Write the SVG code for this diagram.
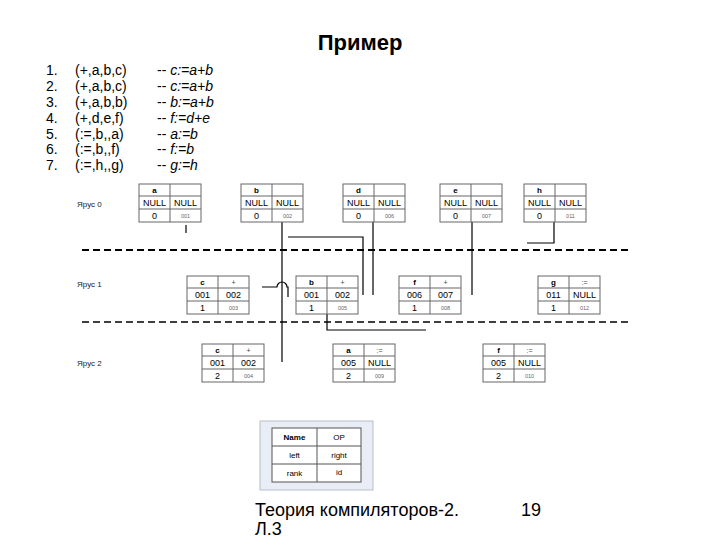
<svg xmlns="http://www.w3.org/2000/svg" width="720" height="540" viewBox="0 0 720 540">
<style>
text{font-family:"Liberation Sans",Arial,sans-serif;fill:#000}
.title{font-size:22px;font-weight:bold}
.li{font-size:14px}
.it{font-style:italic}
.foot{font-size:18px}
.cell{fill:#fff;stroke:#666;stroke-width:1}
.h{font-size:8px;font-weight:bold;text-anchor:middle}
.op{font-size:7px;text-anchor:middle;fill:#444}
.v{font-size:9px;text-anchor:middle}
.s{font-size:5.5px;text-anchor:middle;fill:#666}
.lvl{font-size:8px;fill:#222}
.con{fill:none;stroke:#000;stroke-width:1.2}
.dash{fill:none;stroke:#000;stroke-dasharray:7 4}
.lg{font-size:8px;text-anchor:middle}
</style>
<defs>
<g id="tbl">
<rect class="cell" x="0" y="0" width="62" height="38"/>
<line x1="31" y1="0" x2="31" y2="38" stroke="#666"/>
<line x1="0" y1="12" x2="62" y2="12" stroke="#666"/>
<line x1="0" y1="25" x2="62" y2="25" stroke="#666"/>
</g>
</defs>
<text class="title" x="360" y="50" text-anchor="middle">Пример</text>
<g id="list">
<text class="li" x="46" y="75">1.</text><text class="li" x="75" y="75">(+,a,b,c)</text><text class="li" x="157" y="75">-- <tspan class="it">c:=a+b</tspan></text>
<text class="li" x="46" y="91">2.</text><text class="li" x="75" y="91">(+,a,b,c)</text><text class="li" x="157" y="91">-- <tspan class="it">c:=a+b</tspan></text>
<text class="li" x="46" y="107">3.</text><text class="li" x="75" y="107">(+,a,b,b)</text><text class="li" x="157" y="107">-- <tspan class="it">b:=a+b</tspan></text>
<text class="li" x="46" y="123">4.</text><text class="li" x="75" y="123">(+,d,e,f)</text><text class="li" x="157" y="123">-- <tspan class="it">f:=d+e</tspan></text>
<text class="li" x="46" y="139">5.</text><text class="li" x="75" y="139">(:=,b,,a)</text><text class="li" x="157" y="139">-- <tspan class="it">a:=b</tspan></text>
<text class="li" x="46" y="154">6.</text><text class="li" x="75" y="154">(:=,b,,f)</text><text class="li" x="157" y="154">-- <tspan class="it">f:=b</tspan></text>
<text class="li" x="46" y="170">7.</text><text class="li" x="75" y="170">(:=,h,,g)</text><text class="li" x="157" y="170">-- <tspan class="it">g:=h</tspan></text>
</g>
<g id="levels">
<text class="lvl" x="77" y="207">Ярус 0</text>
<text class="lvl" x="77" y="287">Ярус 1</text>
<text class="lvl" x="77" y="366">Ярус 2</text>
<line class="dash" x1="82" y1="250" x2="630" y2="250" stroke-width="2"/>
<line class="dash" x1="82" y1="322" x2="630" y2="322" stroke-width="1.4"/>
</g>
<g id="connectors">
<path class="con" d="M186 225V233"/>
<path class="con" d="M282 222V362"/>
<path class="con" d="M288 237H363V295"/>
<path class="con" d="M373 222V295"/>
<path class="con" d="M472 222V295"/>
<path class="con" d="M554 222V243H527"/>
<path class="con" d="M262 287H277A5 5 0 0 1 287 287H288V297"/>
<path class="con" d="M327 313V330H426"/>
</g>
<g id="n-a0" transform="translate(139,184)"><use href="#tbl"/><text class="h" x="15.5" y="9">a</text><text class="v" x="15.5" y="22">NULL</text><text class="v" x="46.5" y="22">NULL</text><text class="v" x="15.5" y="35">0</text><text class="s" x="46.5" y="34">001</text></g>
<g id="n-b0" transform="translate(241,184)"><use href="#tbl"/><text class="h" x="15.5" y="9">b</text><text class="v" x="15.5" y="22">NULL</text><text class="v" x="46.5" y="22">NULL</text><text class="v" x="15.5" y="35">0</text><text class="s" x="46.5" y="34">002</text></g>
<g id="n-d0" transform="translate(343,184)"><use href="#tbl"/><text class="h" x="15.5" y="9">d</text><text class="v" x="15.5" y="22">NULL</text><text class="v" x="46.5" y="22">NULL</text><text class="v" x="15.5" y="35">0</text><text class="s" x="46.5" y="34">006</text></g>
<g id="n-e0" transform="translate(440,184)"><use href="#tbl"/><text class="h" x="15.5" y="9">e</text><text class="v" x="15.5" y="22">NULL</text><text class="v" x="46.5" y="22">NULL</text><text class="v" x="15.5" y="35">0</text><text class="s" x="46.5" y="34">007</text></g>
<g id="n-h0" transform="translate(524,184)"><use href="#tbl"/><text class="h" x="15.5" y="9">h</text><text class="v" x="15.5" y="22">NULL</text><text class="v" x="46.5" y="22">NULL</text><text class="v" x="15.5" y="35">0</text><text class="s" x="46.5" y="34">011</text></g>
<g id="n-c1" transform="translate(187,276)"><use href="#tbl"/><text class="h" x="15.5" y="9">c</text><text class="op" x="46.5" y="9">+</text><text class="v" x="15.5" y="22">001</text><text class="v" x="46.5" y="22">002</text><text class="v" x="15.5" y="35">1</text><text class="s" x="46.5" y="34">003</text></g>
<g id="n-b1" transform="translate(296,276)"><use href="#tbl"/><text class="h" x="15.5" y="9">b</text><text class="op" x="46.5" y="9">+</text><text class="v" x="15.5" y="22">001</text><text class="v" x="46.5" y="22">002</text><text class="v" x="15.5" y="35">1</text><text class="s" x="46.5" y="34">005</text></g>
<g id="n-f1" transform="translate(399,276)"><use href="#tbl"/><text class="h" x="15.5" y="9">f</text><text class="op" x="46.5" y="9">+</text><text class="v" x="15.5" y="22">006</text><text class="v" x="46.5" y="22">007</text><text class="v" x="15.5" y="35">1</text><text class="s" x="46.5" y="34">008</text></g>
<g id="n-g1" transform="translate(538,276)"><use href="#tbl"/><text class="h" x="15.5" y="9">g</text><text class="op" x="46.5" y="9">:=</text><text class="v" x="15.5" y="22">011</text><text class="v" x="46.5" y="22">NULL</text><text class="v" x="15.5" y="35">1</text><text class="s" x="46.5" y="34">012</text></g>
<g id="n-c2" transform="translate(202,344)"><use href="#tbl"/><text class="h" x="15.5" y="9">c</text><text class="op" x="46.5" y="9">+</text><text class="v" x="15.5" y="22">001</text><text class="v" x="46.5" y="22">002</text><text class="v" x="15.5" y="35">2</text><text class="s" x="46.5" y="34">004</text></g>
<g id="n-a2" transform="translate(333,344)"><use href="#tbl"/><text class="h" x="15.5" y="9">a</text><text class="op" x="46.5" y="9">:=</text><text class="v" x="15.5" y="22">005</text><text class="v" x="46.5" y="22">NULL</text><text class="v" x="15.5" y="35">2</text><text class="s" x="46.5" y="34">009</text></g>
<g id="n-f2" transform="translate(483,344)"><use href="#tbl"/><text class="h" x="15.5" y="9">f</text><text class="op" x="46.5" y="9">:=</text><text class="v" x="15.5" y="22">005</text><text class="v" x="46.5" y="22">NULL</text><text class="v" x="15.5" y="35">2</text><text class="s" x="46.5" y="34">010</text></g>
<g id="legend">
<rect x="260" y="421" width="113" height="69" fill="#e9edf5" stroke="#b8bfcc"/>
<rect x="272" y="428" width="89" height="54" fill="#fff" stroke="#555"/>
<line x1="317" y1="428" x2="317" y2="482" stroke="#555"/>
<line x1="272" y1="446" x2="361" y2="446" stroke="#555"/>
<line x1="272" y1="464" x2="361" y2="464" stroke="#555"/>
<text class="lg" x="294.5" y="440" font-weight="bold">Name</text>
<text class="lg" x="339" y="440">OP</text>
<text class="lg" x="294.5" y="458">left</text>
<text class="lg" x="339" y="458">right</text>
<text class="lg" x="294.5" y="476">rank</text>
<text class="lg" x="339" y="475" font-size="6" fill="#555">id</text>
</g>
<g id="footer">
<text class="foot" x="255" y="516">Теория компиляторов-2.</text>
<text class="foot" x="255" y="535">Л.3</text>
<text class="foot" x="521" y="516">19</text>
</g>
</svg>
